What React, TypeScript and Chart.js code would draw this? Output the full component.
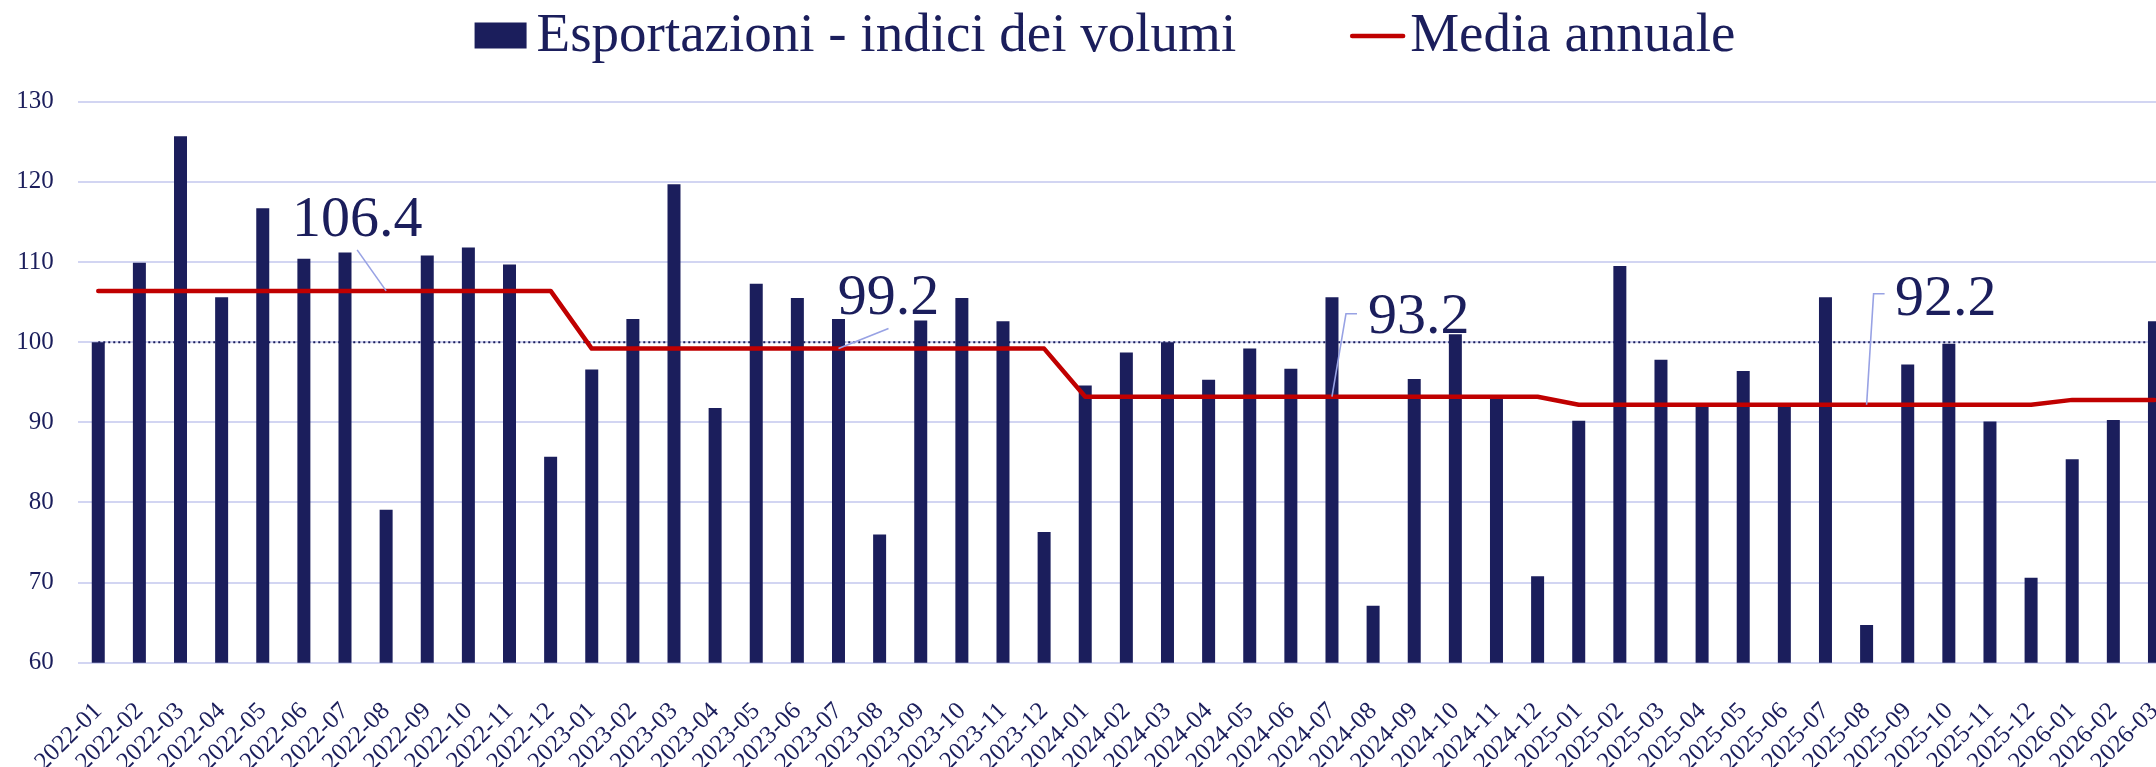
import React, { useEffect, useRef } from "react";
import { Chart, registerables } from "chart.js";

Chart.register(...registerables);

const MONTHS = [
  "2022-01", "2022-02", "2022-03", "2022-04", "2022-05", "2022-06",
  "2022-07", "2022-08", "2022-09", "2022-10", "2022-11", "2022-12",
  "2023-01", "2023-02", "2023-03", "2023-04", "2023-05", "2023-06",
  "2023-07", "2023-08", "2023-09", "2023-10", "2023-11", "2023-12",
  "2024-01", "2024-02", "2024-03", "2024-04", "2024-05", "2024-06",
  "2024-07", "2024-08", "2024-09", "2024-10", "2024-11", "2024-12",
  "2025-01", "2025-02", "2025-03", "2025-04", "2025-05", "2025-06",
  "2025-07", "2025-08", "2025-09", "2025-10", "2025-11", "2025-12",
  "2026-01", "2026-02", "2026-03",
];

const EXPORT_INDEX = [
  100.0, 109.9, 125.7, 105.6, 116.7, 110.4, 111.2, 79.1, 110.8, 111.8, 109.7, 85.7,
  96.6, 102.9, 119.7, 91.8, 107.3, 105.5, 102.9, 76.0, 102.7, 105.5, 102.6, 76.3,
  94.6, 98.7, 100.0, 95.3, 99.2, 96.7, 105.6, 67.1, 95.4, 101.0, 93.2, 70.8,
  90.2, 109.5, 97.8, 92.3, 96.4, 92.2, 105.6, 64.7, 97.2, 99.8, 90.1, 70.6,
  85.4, 90.3, 102.6,
];

const YEARS = ["2022", "2023", "2024", "2025", "2026"];
const ANNUAL_MEANS = [106.4, 99.2, 93.2, 92.2, 92.8];

// months where the annual-mean callouts are attached (one per labelled year)
const CALLOUT_YEARS = ["2022", "2023", "2024", "2025"];
const CALLOUT_MONTHS = ["2022-08", "2023-07", "2024-07", "2025-08"];

const Y_MIN = 60;
const Y_MAX = 130;
const Y_STEP = 10;
const REFERENCE_LEVEL = 100;

const SERIES_BAR = "Esportazioni - indici dei volumi";
const SERIES_LINE = "Media annuale";

const NAVY = "#1b1e5c";
const RED = "#c00000";
const GRID = "#d2d5f2";
const LEADER = "#98a2e4";
const FONT = "'Liberation Serif', 'Times New Roman', serif";

const CANVAS_W = 2210;
const CANVAS_H = 767;

// callout styling (offsets from the anchor point on the mean line)
const CALLOUT_STYLE = [
  { kind: "straight", lead: [-29, -41], text: [-29, -55] },
  { kind: "straight", lead: [50, -20], text: [50, -35] },
  { kind: "elbow", lead: [14, -83], end: 25, text: [36, -64] },
  { kind: "elbow", lead: [7, -111], end: 18, text: [28.5, -90] },
];

const meanLine = MONTHS.map((m) => ANNUAL_MEANS[YEARS.indexOf(m.slice(0, 4))]);

const referencePlugin = {
  id: "referenceLine",
  beforeDatasetsDraw(chart: any) {
    const { ctx, chartArea, scales } = chart;
    const y = scales.y.getPixelForValue(REFERENCE_LEVEL);
    const x0 = scales.x.getPixelForValue(0);
    ctx.save();
    ctx.strokeStyle = NAVY;
    ctx.lineWidth = 2;
    ctx.setLineDash([2, 3]);
    ctx.beginPath();
    ctx.moveTo(x0, y);
    ctx.lineTo(chartArea.right, y);
    ctx.stroke();
    ctx.restore();
  },
};

const calloutPlugin = {
  id: "callouts",
  afterDatasetsDraw(chart: any) {
    const { ctx, scales } = chart;
    ctx.save();
    CALLOUT_YEARS.forEach((yr, i) => {
      const idx = MONTHS.indexOf(CALLOUT_MONTHS[i]);
      const mean = ANNUAL_MEANS[YEARS.indexOf(yr)];
      const ax = scales.x.getPixelForValue(idx);
      const ay = scales.y.getPixelForValue(mean);
      const st: any = CALLOUT_STYLE[i];
      ctx.strokeStyle = LEADER;
      ctx.lineWidth = 1.6;
      ctx.setLineDash([]);
      ctx.beginPath();
      ctx.moveTo(ax, ay);
      ctx.lineTo(ax + st.lead[0], ay + st.lead[1]);
      if (st.kind === "elbow") ctx.lineTo(ax + st.end, ay + st.lead[1]);
      ctx.stroke();
      ctx.fillStyle = NAVY;
      ctx.font = `58px ${FONT}`;
      ctx.textBaseline = "alphabetic";
      ctx.textAlign = st.kind === "elbow" ? "left" : "center";
      ctx.fillText(mean.toFixed(1), ax + st.text[0], ay + st.text[1]);
    });
    ctx.restore();
  },
};

const legendPlugin = {
  id: "customLegend",
  afterDraw(chart: any) {
    const { ctx } = chart;
    ctx.save();
    ctx.font = `55px ${FONT}`;
    const boxW = 52, boxH = 26, gapBox = 10;
    const lineLen = 55, gapLine = 5, between = 114;
    const w1 = ctx.measureText(SERIES_BAR).width;
    const w2 = ctx.measureText(SERIES_LINE).width;
    const total = boxW + gapBox + w1 + between + lineLen + gapLine + w2;
    let x = chart.width / 2 - total / 2;
    const baseline = 51;
    ctx.fillStyle = NAVY;
    ctx.fillRect(x, 22.5, boxW, boxH);
    x += boxW + gapBox;
    ctx.textBaseline = "alphabetic";
    ctx.textAlign = "left";
    ctx.fillText(SERIES_BAR, x, baseline);
    x += w1 + between;
    ctx.strokeStyle = RED;
    ctx.lineWidth = 4.5;
    ctx.lineCap = "round";
    ctx.beginPath();
    ctx.moveTo(x + 2, 36);
    ctx.lineTo(x + lineLen - 2, 36);
    ctx.stroke();
    x += lineLen + gapLine;
    ctx.fillStyle = NAVY;
    ctx.fillText(SERIES_LINE, x, baseline);
    ctx.restore();
  },
};

export default function App() {
  const ref = useRef<HTMLCanvasElement | null>(null);

  useEffect(() => {
    if (!ref.current) return;
    const chart = new Chart(ref.current, {
      type: "bar",
      data: {
        labels: MONTHS,
        datasets: [
          {
            type: "line",
            label: SERIES_LINE,
            data: meanLine,
            borderColor: RED,
            backgroundColor: RED,
            borderWidth: 4.5,
            pointRadius: 0,
            tension: 0,
            borderCapStyle: "round",
            borderJoinStyle: "round",
            order: 0,
          } as any,
          {
            type: "bar",
            label: SERIES_BAR,
            data: EXPORT_INDEX,
            backgroundColor: NAVY,
            borderWidth: 0,
            barPercentage: 0.316,
            categoryPercentage: 1,
            order: 1,
          } as any,
        ],
      },
      plugins: [referencePlugin, calloutPlugin, legendPlugin],
      options: {
        responsive: false,
        animation: false,
        devicePixelRatio: 1,
        layout: { padding: { top: 101.75, left: 0, right: 33.2, bottom: 0 } },
        plugins: {
          legend: { display: false },
          tooltip: { enabled: false },
          title: { display: false },
        },
        scales: {
          x: {
            type: "category",
            offset: true,
            grid: { display: false, drawTicks: false },
            border: { display: false },
            ticks: {
              autoSkip: false,
              minRotation: 45,
              maxRotation: 45,
              color: NAVY,
              padding: 34,
              font: { family: FONT, size: 25 },
            },
            afterFit(scale: any) {
              scale.height = 104.25;
            },
          },
          y: {
            min: Y_MIN,
            max: Y_MAX,
            grid: { color: GRID, lineWidth: 2, drawTicks: false },
            border: { display: false },
            ticks: {
              stepSize: Y_STEP,
              color: NAVY,
              padding: 24,
              font: { family: FONT, size: 25 },
            },
            afterFit(scale: any) {
              scale.width = 77.7;
            },
          },
        },
      } as any,
    });
    return () => chart.destroy();
  }, []);

  return (
    <div
      style={{
        position: "absolute",
        left: 0,
        top: 0,
        width: 2156,
        height: 767,
        overflow: "hidden",
        background: "#ffffff",
      }}
    >
      <canvas ref={ref} width={CANVAS_W} height={CANVAS_H} style={{ display: "block" }} />
    </div>
  );
}
